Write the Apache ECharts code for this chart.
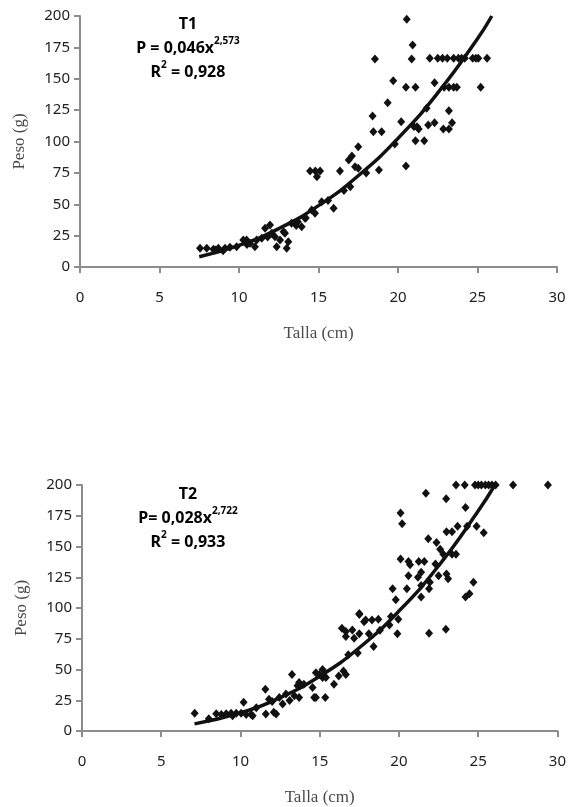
<!DOCTYPE html>
<html>
<head>
<meta charset="utf-8">
<script src="https://cdn.jsdelivr.net/npm/echarts@6/dist/echarts.min.js"></script>
<style>
  html, body { margin: 0; padding: 0; background: #fff; }
  #talla-peso-chart { width: 569px; height: 807px; }
</style>
</head>
<body>
<div id="talla-peso-chart"></div>
<script>
// T1: talla (cm) vs peso (g)
var t1Points = [
  [7.55, 14.9], [7.97, 14.9], [8.5, 13.5], [8.39, 14.1], [8.7, 14.9], [9.12, 14.9], [9.43, 15.7],
  [9.85, 16.2], [10.27, 21.5], [10.48, 21.5], [10.69, 18.9], [11.0, 16.2], [11.11, 21.5],
  [11.43, 22.9], [11.64, 30.8], [11.95, 33.5], [12.06, 26.9], [12.26, 24.1], [12.37, 16.2],
  [12.58, 21.5], [12.89, 26.9], [13.0, 14.9], [13.1, 20.2], [13.3, 34.8], [13.7, 36.1],
  [13.94, 32.1], [14.15, 38.8], [14.57, 45.4], [14.78, 42.8], [15.2, 52.0], [15.95, 46.8],
  [14.47, 76.5], [14.8, 76.5], [15.1, 76.5], [14.9, 72.0], [16.35, 76.5],
  [16.9, 85.3], [17.1, 88.4], [17.5, 95.9], [17.3, 79.9], [17.0, 64.0], [17.5, 78.6],
  [18.8, 77.3], [18.4, 120.3], [18.45, 107.8], [18.97, 107.8], [19.35, 130.9], [19.7, 148.4],
  [18.55, 165.7], [20.55, 197.4], [20.92, 176.9], [20.86, 165.7], [20.5, 143.2], [21.1, 143.2],
  [20.2, 115.8], [20.5, 80.5], [21.2, 111.8], [21.3, 110.0], [21.9, 113.1], [22.3, 115.0],
  [21.1, 100.6], [21.65, 100.6], [21.8, 126.4], [22.85, 110.0], [23.2, 110.0], [23.4, 115.0],
  [23.2, 124.5], [22.3, 146.9], [22.9, 143.2], [23.2, 143.2], [23.5, 143.2], [23.7, 143.2],
  [25.2, 143.2], [22.0, 166.3], [22.5, 166.3], [22.8, 166.3], [23.1, 166.3], [23.5, 166.3],
  [23.8, 166.3], [24.0, 166.3], [24.2, 166.3], [24.7, 166.3], [24.9, 166.3], [25.05, 166.3],
  [25.6, 166.3], [9.0, 13.0], [10.5, 18.0], [11.8, 24.0], [12.8, 28.0], [13.6, 33.0],
  [14.2, 39.0], [15.6, 53.0], [16.6, 61.0], [18.0, 75.0], [19.8, 98.0], [21.0, 112.0]
]
var t1Curve = [
  [7.5, 8.2], [10, 17.2], [12.5, 30.6], [15, 48.9], [17.5, 72.7], [20, 102.5],
  [22.5, 138.7], [25, 181.9], [25.9, 200]
]

// T2: talla (cm) vs peso (g)
var t2Points = [
  [7.11, 14.5], [8.47, 14.0], [8.79, 13.5], [9.1, 14.0], [9.41, 14.5], [9.73, 14.5],
  [10.04, 14.5], [10.36, 13.5], [10.67, 13.5], [10.77, 12.5], [10.2, 23.3], [11.6, 13.9],
  [12.1, 15.3], [12.25, 13.9], [11.57, 34.0], [11.8, 25.9], [12.45, 27.3], [12.66, 21.9],
  [12.87, 30.0], [13.1, 24.7], [13.4, 28.7], [13.7, 27.3], [13.25, 46.0], [13.6, 36.7],
  [13.7, 39.4], [14.0, 38.0], [14.55, 35.3], [14.65, 27.3], [14.76, 47.4], [14.97, 46.0],
  [15.18, 50.0], [15.18, 43.4], [15.39, 43.4], [14.76, 27.3], [15.35, 27.3], [15.9, 38.0],
  [16.2, 44.7], [16.5, 48.7], [16.65, 46.0], [16.4, 83.5], [16.65, 80.9], [17.06, 82.2],
  [16.65, 76.9], [17.17, 75.5], [17.5, 94.8], [17.8, 88.9], [17.4, 63.5],
  [17.5, 95.6], [17.9, 90.2], [18.3, 90.2], [18.7, 90.8], [19.4, 86.2], [19.96, 90.8],
  [17.5, 79.0], [18.1, 79.0], [19.9, 79.0], [21.9, 79.5], [22.96, 82.7], [18.4, 68.8],
  [19.6, 115.7], [20.5, 115.7], [21.4, 118.3], [21.9, 115.7], [19.8, 106.8], [21.4, 109.0],
  [24.7, 121.0], [24.2, 109.0], [24.45, 111.6], [21.4, 129.1], [21.2, 125.1], [20.6, 126.3],
  [21.95, 121.0], [22.5, 126.3], [23.0, 127.7], [23.1, 123.7], [20.1, 139.8], [20.6, 137.9],
  [20.7, 135.2], [21.25, 137.9], [21.6, 137.9], [22.3, 135.7], [22.6, 147.8], [22.8, 143.8],
  [23.35, 143.8], [23.6, 143.8], [21.85, 156.4], [22.37, 153.2], [23.0, 162.0], [23.35, 162.0],
  [23.7, 166.5], [24.3, 166.5], [24.9, 166.5], [25.35, 161.2], [20.1, 177.3], [20.2, 168.4],
  [21.7, 193.3], [22.98, 188.8], [24.2, 181.8], [23.6, 200], [24.15, 200], [24.8, 200],
  [25.0, 200], [25.2, 200], [25.45, 200], [25.66, 200], [25.87, 200], [26.1, 200],
  [27.2, 200], [29.4, 200], [8.0, 10.0], [9.5, 12.5], [11.0, 19.0], [12.0, 24.0],
  [16.8, 62.0], [18.8, 82.0], [19.5, 93.0]
]
var t2Curve = [
  [7.1, 5.8], [10, 14.8], [12.5, 27.1], [15, 44.5], [17.5, 67.7], [20, 97.5],
  [22.5, 134.3], [25, 178.8], [26.05, 200]
]

var xTicks = { min: 0, max: 30, interval: 5 }
var yTicks = { min: 0, max: 200, interval: 25 }

var axisGray = '#8c8c8c'
var labelFont = 'Noto Sans'
var nameFont = 'Liberation Serif'

function makeXAxis(gridIndex) {
  return {
    gridIndex: gridIndex,
    type: 'value',
    min: xTicks.min,
    max: xTicks.max,
    interval: xTicks.interval,
    name: 'Talla (cm)',
    nameLocation: 'middle',
    nameGap: 58,
    nameTextStyle: { fontFamily: nameFont, fontSize: 17, color: '#4a4a4a' },
    axisLine: { show: true, lineStyle: { color: axisGray, width: 2 } },
    axisTick: { show: true, length: 6, lineStyle: { color: axisGray, width: 2 } },
    axisLabel: { margin: 23, fontFamily: labelFont, fontSize: 15, color: '#222' },
    splitLine: { show: false }
  }
}

function makeYAxis(gridIndex) {
  return {
    gridIndex: gridIndex,
    type: 'value',
    min: yTicks.min,
    max: yTicks.max,
    interval: yTicks.interval,
    name: 'Peso (g)',
    nameLocation: 'middle',
    nameGap: 52,
    nameRotate: 90,
    nameTextStyle: { fontFamily: nameFont, fontSize: 17, color: '#4a4a4a' },
    axisLine: { show: true, lineStyle: { color: axisGray, width: 2 } },
    axisTick: { show: true, length: 6, lineStyle: { color: axisGray, width: 2 } },
    axisLabel: { margin: 10, fontFamily: labelFont, fontSize: 15, color: '#222' },
    splitLine: { show: false }
  }
}

function scatter(idx, data) {
  return {
    type: 'scatter',
    xAxisIndex: idx,
    yAxisIndex: idx,
    symbol: 'diamond',
    symbolSize: [8, 9],
    itemStyle: { color: '#111', opacity: 1 },
    data: data,
    z: 2
  }
}

function trend(idx, data) {
  return {
    type: 'line',
    xAxisIndex: idx,
    yAxisIndex: idx,
    smooth: true,
    showSymbol: false,
    lineStyle: { color: '#111', width: 3.5 },
    data: data,
    z: 3
  }
}

var richText = {
  b: { fontFamily: labelFont, fontWeight: 'bold', fontSize: 16, color: '#222', lineHeight: 24 },
  sup: { fontFamily: labelFont, fontWeight: 'bold', fontSize: 10, color: '#222', verticalAlign: 'top', lineHeight: 16 }
}

function eqText(y, title, eq, exp, r2) {
  return {
    type: 'text',
    x: 188,
    y: y,
    style: {
      text: '{b|' + title + '}\n{b|' + eq + '}{sup|' + exp + '}\n{b|R}{sup|2}{b| = ' + r2 + '}',
      rich: richText,
      align: 'center',
      verticalAlign: 'top'
    }
  }
}

var chart = echarts.init(document.getElementById('talla-peso-chart'))
var option = {
  animation: false,
  backgroundColor: '#fff',
  grid: [
    { left: 80, top: 16, width: 477, height: 251 },
    { left: 82, top: 485, width: 477, height: 249 }
  ],
  xAxis: [makeXAxis(0), makeXAxis(1)],
  yAxis: [makeYAxis(0), makeYAxis(1)],
  graphic: [
    eqText(12, 'T1', 'P = 0,046x', '2,573', '0,928'),
    eqText(482, 'T2', 'P= 0,028x', '2,722', '0,933')
  ],
  series: [
    scatter(0, t1Points),
    trend(0, t1Curve),
    scatter(1, t2Points),
    trend(1, t2Curve)
  ]
}
chart.setOption(option)
</script>
</body>
</html>
